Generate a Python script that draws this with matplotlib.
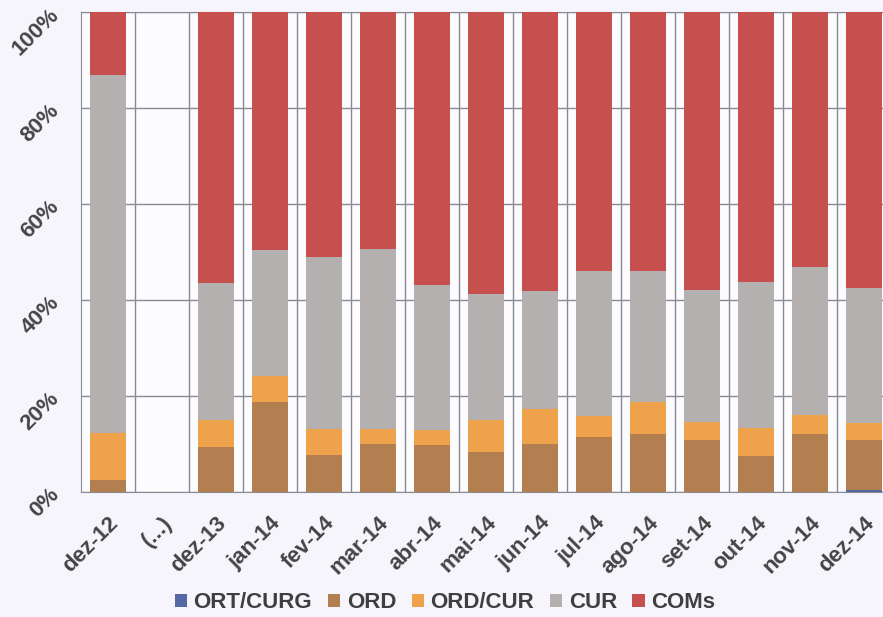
import matplotlib
matplotlib.use("Agg")
import matplotlib.pyplot as plt
import numpy as np

categories = ["dez-12", "(...)", "dez-13", "jan-14", "fev-14", "mar-14", "abr-14",
              "mai-14", "jun-14", "jul-14", "ago-14", "set-14", "out-14", "nov-14", "dez-14"]
series_names = ["ORT/CURG", "ORD", "ORD/CUR", "CUR", "COMs"]
# cumulative tops (percent)
ort_curg = [0, 0, 0, 0, 0, 0, 0, 0, 0, 0, 0, 0, 0, 0, 0.3]
ord_top = [2.5, 0, 9.3, 18.6, 7.6, 9.9, 9.7, 8.2, 10.0, 11.4, 11.9, 10.7, 7.3, 11.9, 10.7]
ordcur_top = [12.1, 0, 14.8, 24.1, 13.0, 13.0, 12.8, 14.9, 17.2, 15.8, 18.7, 14.5, 13.2, 15.9, 14.2]
cur_top = [86.8, 0, 43.4, 50.3, 48.9, 50.6, 43.0, 41.1, 41.8, 45.9, 46.0, 42.0, 43.6, 46.8, 42.3]
present = [1, 0, 1, 1, 1, 1, 1, 1, 1, 1, 1, 1, 1, 1, 1]

mask = np.array(present)
ort = np.array(ort_curg)
ordv = (np.array(ord_top) - ort) * mask
ordcur = (np.array(ordcur_top) - np.array(ord_top)) * mask
cur = (np.array(cur_top) - np.array(ordcur_top)) * mask
coms = (100 - np.array(cur_top)) * mask

colors = ["#5468a3", "#b47f50", "#eea24c", "#b5b0b0", "#c5504d"]
values = [ort, ordv, ordcur, cur, coms]

bg = "#f6f5fb"
fig = plt.figure(figsize=(8.83, 6.17), dpi=100, facecolor=bg)
ax = fig.add_axes([81/883, 1 - 491.5/617, 810/883, 480/617])
ax.set_facecolor("#fcfcfe")

x = np.arange(len(categories))
bottom = np.zeros(len(categories))
for name, vals, c in zip(series_names, values, colors):
    ax.bar(x, vals, bottom=bottom, width=0.67, color=c, label=name, zorder=3)
    bottom += vals

ax.set_xlim(-0.5, len(categories) - 0.5)
ax.set_ylim(0, 100)
ax.set_yticks([0, 20, 40, 60, 80, 100])
ax.set_yticklabels(["0%", "20%", "40%", "60%", "80%", "100%"])
ax.set_xticks(x)
ax.set_xticklabels(categories)
for xb in np.arange(0.5, len(categories) - 0.5, 1.0):
    ax.axvline(xb, color="#8a8a96", lw=1.0, zorder=1)
ax.grid(axis="y", color="#8a8a96", lw=1.0, zorder=1)
ax.tick_params(length=0)
for s in ax.spines.values():
    s.set_color("#8a8a96")
ax.spines["right"].set_visible(False)

for lab in ax.get_xticklabels():
    lab.set_va("top")
for lab in ax.get_yticklabels():
    lab.set_va("center")
for lab in ax.get_xticklabels() + ax.get_yticklabels():
    lab.set_rotation(45)
    lab.set_ha("right")
    lab.set_rotation_mode("anchor")
    lab.set_fontsize(16)
    lab.set_fontweight("bold")
    lab.set_color("#444444")
    lab.set_family("Liberation Sans")
ax.tick_params(axis="x", pad=15)
ax.tick_params(axis="y", pad=18)

leg = fig.legend(loc="center", bbox_to_anchor=(445/883, 1 - 603/617), ncol=5, frameon=False,
                 prop={"family": "Liberation Sans", "weight": "bold", "size": 16},
                 handlelength=0.55, handleheight=0.55, handletextpad=0.3, columnspacing=0.7)
for t in leg.get_texts():
    t.set_color("#3f3f3f")

fig.savefig("out.png", dpi=100, facecolor=bg)
